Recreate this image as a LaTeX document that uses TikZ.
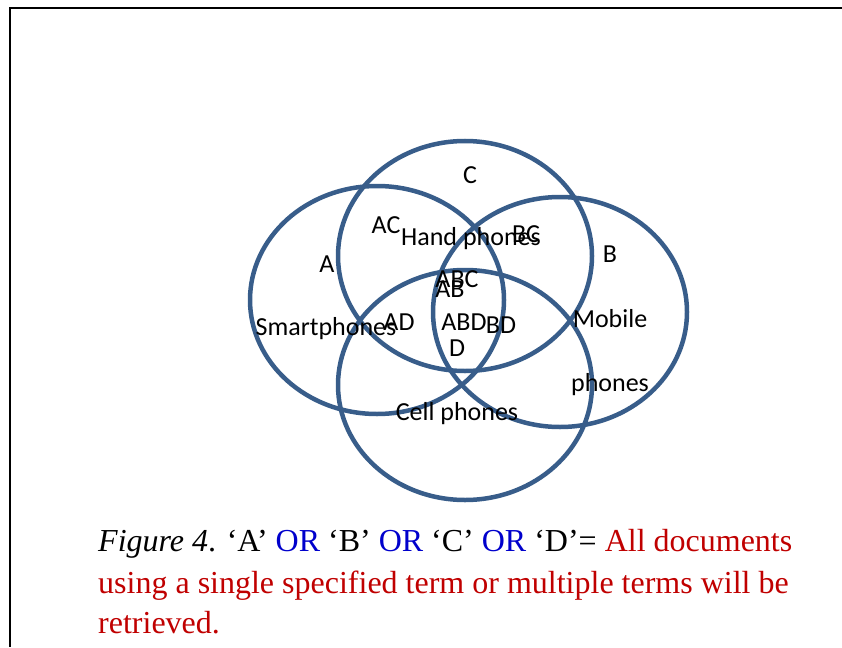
\documentclass[tikz,border=0pt]{standalone}
\usepackage{fontspec}
\setmainfont{Liberation Serif}
\newfontfamily\labfont{Carlito}
\definecolor{ringblue}{RGB}{56,93,138}
\definecolor{orblue}{RGB}{0,0,204}
\definecolor{capred}{RGB}{192,0,0}
\tikzset{
  ring/.style={draw=ringblue, line width=4.5pt},
  vlabel/.style={anchor=base, inner sep=0pt, font=\labfont\fontsize{26}{30}\selectfont},
  capline/.style={anchor=base west, inner sep=0pt, font=\fontsize{32}{38}\selectfont},
  frameline/.style={draw=black, line width=2.5pt}
}
\begin{document}
\begin{tikzpicture}[x=1pt, y=-1pt]
\useasboundingbox (0,0) rectangle (842,647);

% frame
\coordinate (fcorner) at (10,8);
\coordinate (fright) at (842,8);
\coordinate (fbottom) at (10,647);
\draw[frameline] (fright) -- (fcorner) -- (fbottom);

% four overlapping term sets
\draw[ring] (377,300) ellipse [x radius=127, y radius=114];
\draw[ring] (465,256) ellipse [x radius=127, y radius=115];
\draw[ring] (560,312) ellipse [x radius=127, y radius=115];
\draw[ring] (465,385) ellipse [x radius=127, y radius=115];

% region labels
\node[vlabel] (lC) at (470,183) {C};
\node[vlabel] (lAC) at (386,233) {AC};
\node[vlabel] (lhand) at (471,245) {Hand phones};
\node[vlabel] (lBC) at (526,242) {BC};
\node[vlabel] (lA) at (327,272) {A};
\node[vlabel] (lB) at (610,262) {B};
\node[vlabel] (lABC) at (457,287) {ABC};
\node[vlabel] (lAB) at (450,297) {AB};
\node[vlabel] (lsmart) at (326,335) {Smartphones};
\node[vlabel] (lAD) at (399,330) {AD};
\node[vlabel] (lABD) at (464,330) {ABD};
\node[vlabel] (lBD) at (501,333) {BD};
\node[vlabel] (lD) at (457,356) {D};
\node[vlabel] (lmob) at (610,327) {Mobile};
\node[vlabel] (lphones) at (610,391) {phones};
\node[vlabel] (lcell) at (457,420) {Cell phones};

% caption
\node[capline] (cap1) at (98,551) {\textit{Figure 4}. ‘A’ \textcolor{orblue}{OR} ‘B’ \textcolor{orblue}{OR} ‘C’ \textcolor{orblue}{OR} ‘D’= \textcolor{capred}{All documents}};
\node[capline, text=capred] (cap2) at (98,593) {using a single specified term or multiple terms will be};
\node[capline, text=capred] (cap3) at (98,633) {retrieved.};
\end{tikzpicture}
\end{document}
